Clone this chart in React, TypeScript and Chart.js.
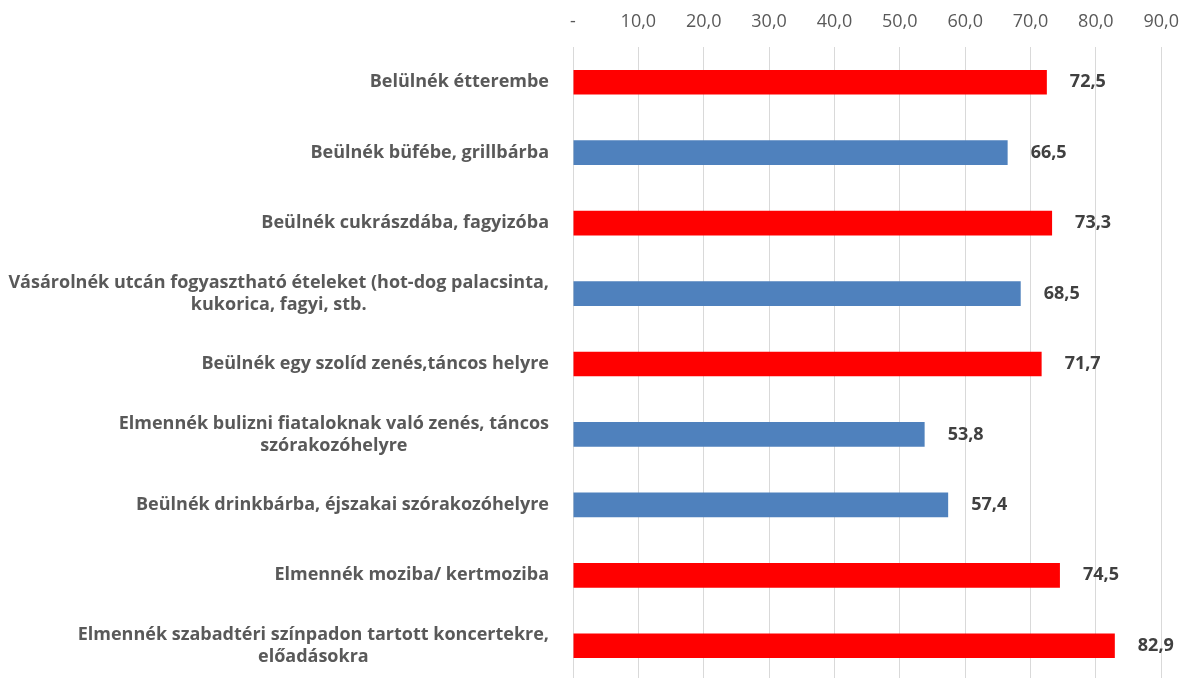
import React, { useEffect, useRef } from 'react';
import { Chart, registerables } from 'chart.js';

Chart.register(...registerables);

const categories: string[][] = [
  ['Belülnék étterembe'],
  ['Beülnék büfébe, grillbárba'],
  ['Beülnék cukrászdába, fagyizóba'],
  ['Vásárolnék utcán fogyasztható ételeket (hot-dog palacsinta,', 'kukorica, fagyi, stb.'],
  ['Beülnék egy szolíd zenés,táncos helyre'],
  ['Elmennék bulizni fiataloknak való zenés, táncos', 'szórakozóhelyre'],
  ['Beülnék drinkbárba, éjszakai szórakozóhelyre'],
  ['Elmennék moziba/ kertmoziba'],
  ['Elmennék szabadtéri színpadon tartott koncertekre,', 'előadásokra'],
];
const values: number[] = [72.5, 66.5, 73.3, 68.5, 71.7, 53.8, 57.4, 74.5, 82.9];
const highlighted: boolean[] = [true, false, true, false, true, false, false, true, true];
const axisMin = 0;
const axisMax = 90;
const axisStep = 10;

const RED = '#FF0000';
const BLUE = '#4F81BD';
const LABEL_FONT = 'bold 18px "Open Sans", sans-serif';
const VALUE_FONT = 'bold 18px "Open Sans", sans-serif';
const TEXT_COLOR = '#595959';

const fmt = (v: number) => (v === 0 ? '-' : v.toFixed(1).replace('.', ','));

const labelsPlugin = {
  id: 'customLabels',
  afterDraw(chart: any) {
    const ctx = chart.ctx;
    const yScale = chart.scales.y;
    const area = chart.chartArea;
    ctx.save();
    ctx.font = LABEL_FONT;
    ctx.fillStyle = TEXT_COLOR;
    ctx.textBaseline = 'middle';
    ctx.textAlign = 'center';
    const lineH = 22;
    categories.forEach((lines, i) => {
      const cy = yScale.getPixelForValue(i);
      const widest = Math.max(...lines.map((l) => ctx.measureText(l).width));
      const cx = area.left - 24 - widest / 2;
      lines.forEach((l, j) => {
        ctx.fillText(l, cx, cy + (j - (lines.length - 1) / 2) * lineH);
      });
    });
    ctx.font = VALUE_FONT;
    ctx.fillStyle = '#404040';
    ctx.textAlign = 'left';
    const meta = chart.getDatasetMeta(0);
    meta.data.forEach((el: any, i: number) => {
      ctx.fillText(values[i].toFixed(1).replace('.', ','), el.x + 23, el.y);
    });
    ctx.restore();
  },
};

export default function App() {
  const ref = useRef<HTMLCanvasElement | null>(null);
  useEffect(() => {
    if (!ref.current) return;
    const chart = new Chart(ref.current, {
      type: 'bar',
      data: {
        labels: categories.map((c) => c.join(' ')),
        datasets: [
          {
            data: values,
            backgroundColor: highlighted.map((h) => (h ? RED : BLUE)),
            barPercentage: 0.35,
            categoryPercentage: 1,
          },
        ],
      },
      options: {
        indexAxis: 'y',
        animation: false,
        responsive: true,
        maintainAspectRatio: false,
        layout: { padding: { left: 573, right: 14, top: 0, bottom: 0 } },
        plugins: { legend: { display: false }, tooltip: { enabled: false } },
        scales: {
          x: {
            position: 'top',
            min: axisMin,
            max: axisMax,
            border: { display: false },
            grid: { color: '#D9D9D9', drawTicks: false, lineWidth: 1 },
            ticks: {
              stepSize: axisStep,
              padding: 16,
              color: TEXT_COLOR,
              font: { family: '"Open Sans", sans-serif', size: 18, lineHeight: 1 },
              callback: (v: any) => fmt(Number(v)),
            },
          },
          y: {
            display: false,
          },
        },
      },
      plugins: [labelsPlugin],
    });
    return () => chart.destroy();
  }, []);
  return (
    <div style={{ position: 'fixed', left: 0, top: -3, width: 1195, height: 684, background: '#fff' }}>
      <canvas ref={ref} />
    </div>
  );
}
